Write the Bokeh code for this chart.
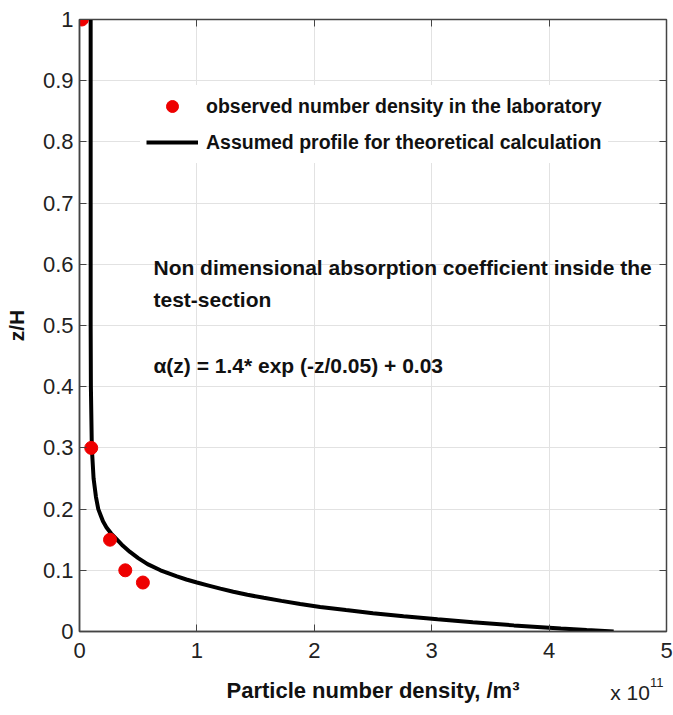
from bokeh.plotting import figure
from bokeh.layouts import column
from bokeh.models import (Legend, LegendItem, Label, LinearAxis, FixedTicker, Range1d,
                          CustomJSTickFormatter)
from bokeh.embed import file_html
from bokeh.resources import INLINE

# observed data (x in units of 1e11 /m^3)
obs_x = [0.02, 0.10, 0.26, 0.39, 0.54]
obs_z = [1.00, 0.30, 0.15, 0.10, 0.08]

# assumed profile
prof_z = [0.0, 0.0025, 0.005, 0.0075, 0.01, 0.015, 0.02, 0.025, 0.03, 0.035, 0.04, 0.045,
          0.05, 0.055, 0.06, 0.065, 0.07, 0.075, 0.08, 0.085, 0.09, 0.095, 0.10, 0.11,
          0.12, 0.13, 0.14, 0.15, 0.16, 0.17, 0.18, 0.19, 0.20, 0.22, 0.25, 0.30, 0.40,
          0.50, 0.60, 0.80, 1.00]
prof_x = [4.55, 4.32, 4.10, 3.90, 3.70, 3.35, 3.05, 2.76, 2.50, 2.27, 2.05, 1.88,
          1.72, 1.57, 1.43, 1.31, 1.20, 1.10, 1.00, 0.91, 0.83, 0.76, 0.69, 0.58,
          0.50, 0.43, 0.37, 0.32, 0.27, 0.23, 0.20, 0.18, 0.16, 0.14, 0.12, 0.105, 0.097,
          0.095, 0.095, 0.095, 0.095]

x_ticks = [0, 1, 2, 3, 4, 5]
y_ticks = [0, 0.1, 0.2, 0.3, 0.4, 0.5, 0.6, 0.7, 0.8, 0.9, 1.0]
y_tick_labels = ["0", "0.1", "0.2", "0.3", "0.4", "0.5", "0.6", "0.7", "0.8", "0.9", "1"]
x_title = "Particle number density, /m³"
y_title = "z/H"

FONT = "Liberation Sans"
AX = "#444444"

p = figure(frame_width=587, frame_height=612, output_backend="svg", toolbar_location=None,
           x_range=Range1d(0, 5), y_range=Range1d(0, 1))
p.min_border_left = 79
p.min_border_top = 19
p.min_border_right = 7
p.min_border_bottom = 45
p.background_fill_color = "white"
p.border_fill_color = "white"
p.outline_line_color = AX
p.outline_line_width = 1.5

p.xaxis.ticker = FixedTicker(ticks=x_ticks)
p.yaxis.ticker = FixedTicker(ticks=y_ticks)
p.yaxis.major_label_overrides = {t: s for t, s in zip(y_ticks, y_tick_labels)}
for ax in (p.xaxis[0], p.yaxis[0]):
    ax.major_tick_in = 7
    ax.major_tick_out = 0
    ax.minor_tick_line_color = None
    ax.axis_line_color = AX
    ax.axis_line_width = 1.5
    ax.major_tick_line_color = AX
    ax.major_label_text_font = FONT
    ax.major_label_text_font_size = "22px"
    ax.major_label_text_color = "#222222"
    ax.axis_label_text_font = FONT
    ax.axis_label_text_font_style = "bold"
    ax.axis_label_text_font_size = "21px"
    ax.axis_label_text_color = "#111111"
p.yaxis.axis_label = y_title
p.xaxis.major_label_standoff = 11
p.yaxis.major_label_standoff = 6
p.yaxis.axis_label_standoff = 12

blank = CustomJSTickFormatter(code="return ''")
top = LinearAxis(ticker=FixedTicker(ticks=x_ticks), formatter=blank,
                 major_tick_in=7, major_tick_out=0, minor_tick_line_color=None,
                 axis_line_color=AX, major_tick_line_color=AX)
right = LinearAxis(ticker=FixedTicker(ticks=y_ticks), formatter=blank,
                   major_tick_in=7, major_tick_out=0, minor_tick_line_color=None,
                   axis_line_color=AX, major_tick_line_color=AX)
p.add_layout(top, "above")
p.add_layout(right, "right")

p.grid.grid_line_color = "#e2e2e2"
p.grid.grid_line_width = 1

line_r = p.line(prof_x, prof_z, line_color="black", line_width=4)
dot_r = p.scatter(obs_x, obs_z, size=13, fill_color="#ee0000", line_color="#ee0000")

legend = Legend(items=[
    LegendItem(label="observed number density in the laboratory", renderers=[dot_r]),
    LegendItem(label="Assumed profile for theoretical calculation", renderers=[line_r]),
], location=(61, 468))
legend.border_line_alpha = 0
legend.background_fill_color = "white"
legend.background_fill_alpha = 1
legend.label_text_font = FONT
legend.label_text_font_style = "bold"
legend.label_text_font_size = "19.5px"
legend.label_text_color = "#111111"
legend.glyph_width = 52
legend.glyph_height = 30
legend.label_standoff = 8
legend.spacing = 6
legend.padding = 6
legend.margin = 0
p.add_layout(legend, "center")

for txt, yy in [("Non dimensional absorption coefficient inside the", 0.595),
                ("test-section", 0.543),
                ("α(z) = 1.4* exp (-z/0.05) + 0.03", 0.434)]:
    p.add_layout(Label(x=0.63, y=yy, text=txt, text_font=FONT, text_font_style="bold",
                       text_font_size="21px", text_color="#111111",
                       text_baseline="middle", text_align="left"))

# strip below the plot (frame aligned with the plot) for the x-axis title and exponent
p2 = figure(width=673, height=39, output_backend="svg", toolbar_location=None,
            x_range=Range1d(0, 5), y_range=Range1d(0, 39),
            x_axis_type=None, y_axis_type=None, min_border=0)
p2.outline_line_color = None
p2.grid.visible = False
p2.add_layout(Label(x=2.5, y=25, text=x_title, text_font=FONT, text_font_style="bold",
                    text_font_size="22px", text_color="#111111",
                    text_baseline="middle", text_align="center"))
p2.add_layout(Label(x=4.52, y=23, text="x 10", text_font=FONT, text_font_size="21px",
                    text_color="#222222", text_baseline="middle", text_align="left"))
p2.add_layout(Label(x=4.86, y=33, text="11", text_font=FONT, text_font_size="13px",
                    text_color="#222222", text_baseline="middle", text_align="left"))

layout = column(p, p2, spacing=0)
open("out.html", "w").write(file_html(layout, INLINE))
